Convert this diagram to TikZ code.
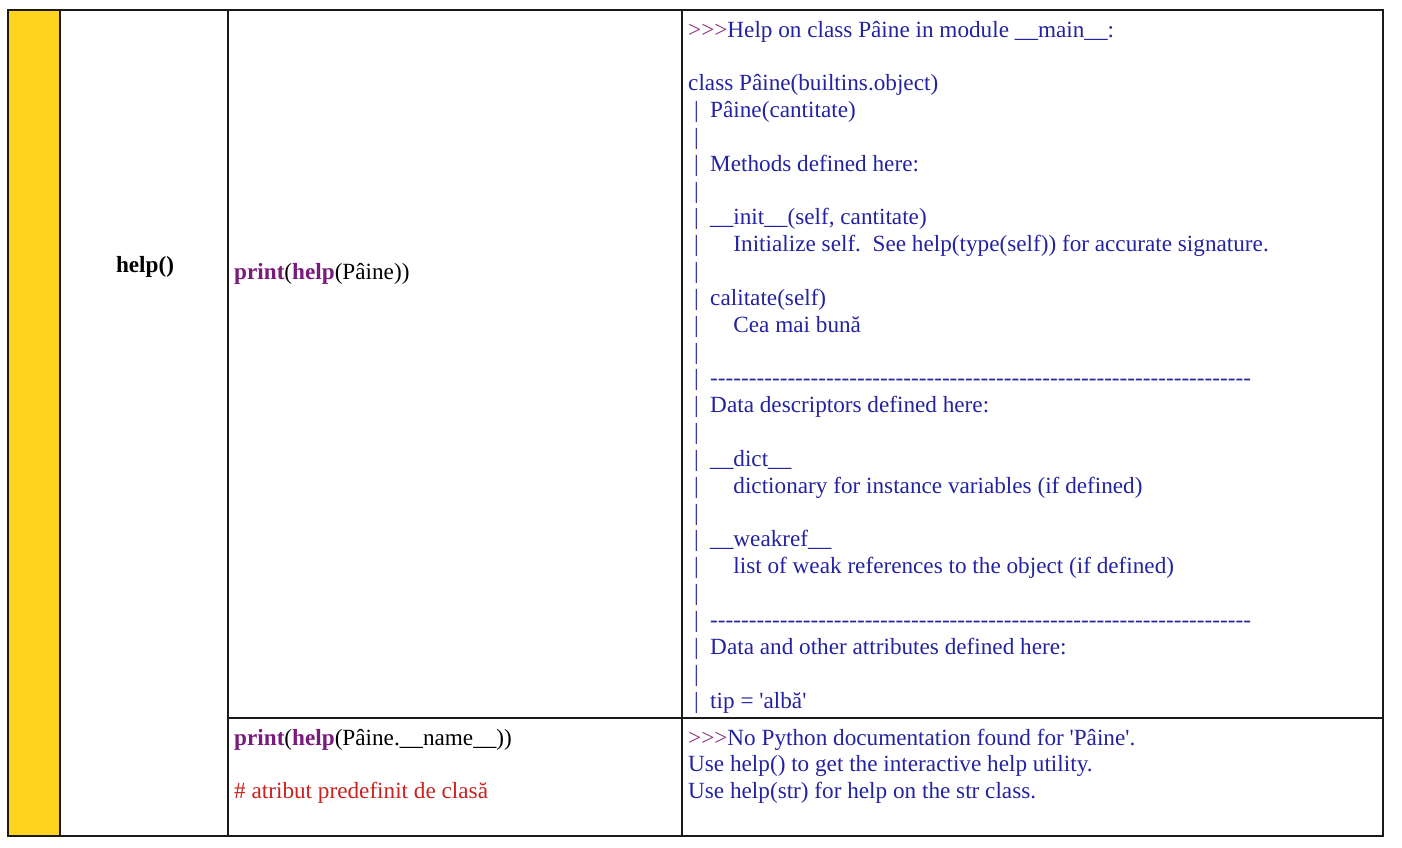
\documentclass[tikz,border=0pt]{standalone}
\usepackage{fontspec}
\setmainfont{Liberation Serif}[Ligatures=TeXOff]
\definecolor{gridc}{HTML}{1A1A1A}
\definecolor{yel}{HTML}{FFD320}
\definecolor{outblue}{HTML}{2323A0}
\definecolor{prompt}{HTML}{8B2C7A}
\definecolor{kw}{HTML}{7A1A7A}
\definecolor{cmt}{HTML}{C9211E}
\newcommand\pl{\mbox{}\ |\ \ }
\newcommand\pli{\pl\ \ \ \ }
\newcommand\kwd[1]{\textcolor{kw}{\textbf{#1}}}
\begin{document}
\begin{tikzpicture}[x=1pt,y=-1pt,
  txt/.style={inner sep=0pt,anchor=base west,font=\fontsize{23.2}{26.84}\selectfont,align=left},
  grid/.style={draw=gridc,line width=1.3pt}]
\useasboundingbox (0,0) rectangle (1402,848);
\fill[yel] (8,10) rectangle (60,836);
\draw[grid] (8,10) rectangle (1383,836);
\draw[grid] (60,10) -- (60,836);
\draw[grid] (228,10) -- (228,836);
\draw[grid] (682,10) -- (682,836);
\draw[grid] (228,718) -- (1383,718);
% multi-line nodes: base anchor = baseline of the last line
\node[txt,anchor=base] (fn) at (145,272) {\textbf{help()}};
\node[txt] (c1) at (234,279) {\kwd{print}(\kwd{help}(Pâine))};
\node[txt] (c2) at (234,798.7) {\kwd{print}(\kwd{help}(Pâine.\_\_name\_\_))\\
\mbox{}\\
\textcolor{cmt}{\# atribut predefinit de clasă}};
\node[txt,text=outblue] (o1) at (688,708) {\textcolor{prompt}{>>>}Help on class Pâine in module \_\_main\_\_:\\
\mbox{}\\
class Pâine(builtins.object)\\
\pl Pâine(cantitate)\\
\pl\\
\pl Methods defined here:\\
\pl\\
\pl \_\_init\_\_(self, cantitate)\\
\pli Initialize self.\ \ See help(type(self)) for accurate signature.\\
\pl\\
\pl calitate(self)\\
\pli Cea mai bună\\
\pl\\
\pl ----------------------------------------------------------------------\\
\pl Data descriptors defined here:\\
\pl\\
\pl \_\_dict\_\_\\
\pli dictionary for instance variables (if defined)\\
\pl\\
\pl \_\_weakref\_\_\\
\pli list of weak references to the object (if defined)\\
\pl\\
\pl ----------------------------------------------------------------------\\
\pl Data and other attributes defined here:\\
\pl\\
\pl tip = 'albă'};
\node[txt,text=outblue] (o2) at (688,798.7) {\textcolor{prompt}{>>>}No Python documentation found for 'Pâine'.\\
Use help() to get the interactive help utility.\\
Use help(str) for help on the str class.};
\end{tikzpicture}
\end{document}
